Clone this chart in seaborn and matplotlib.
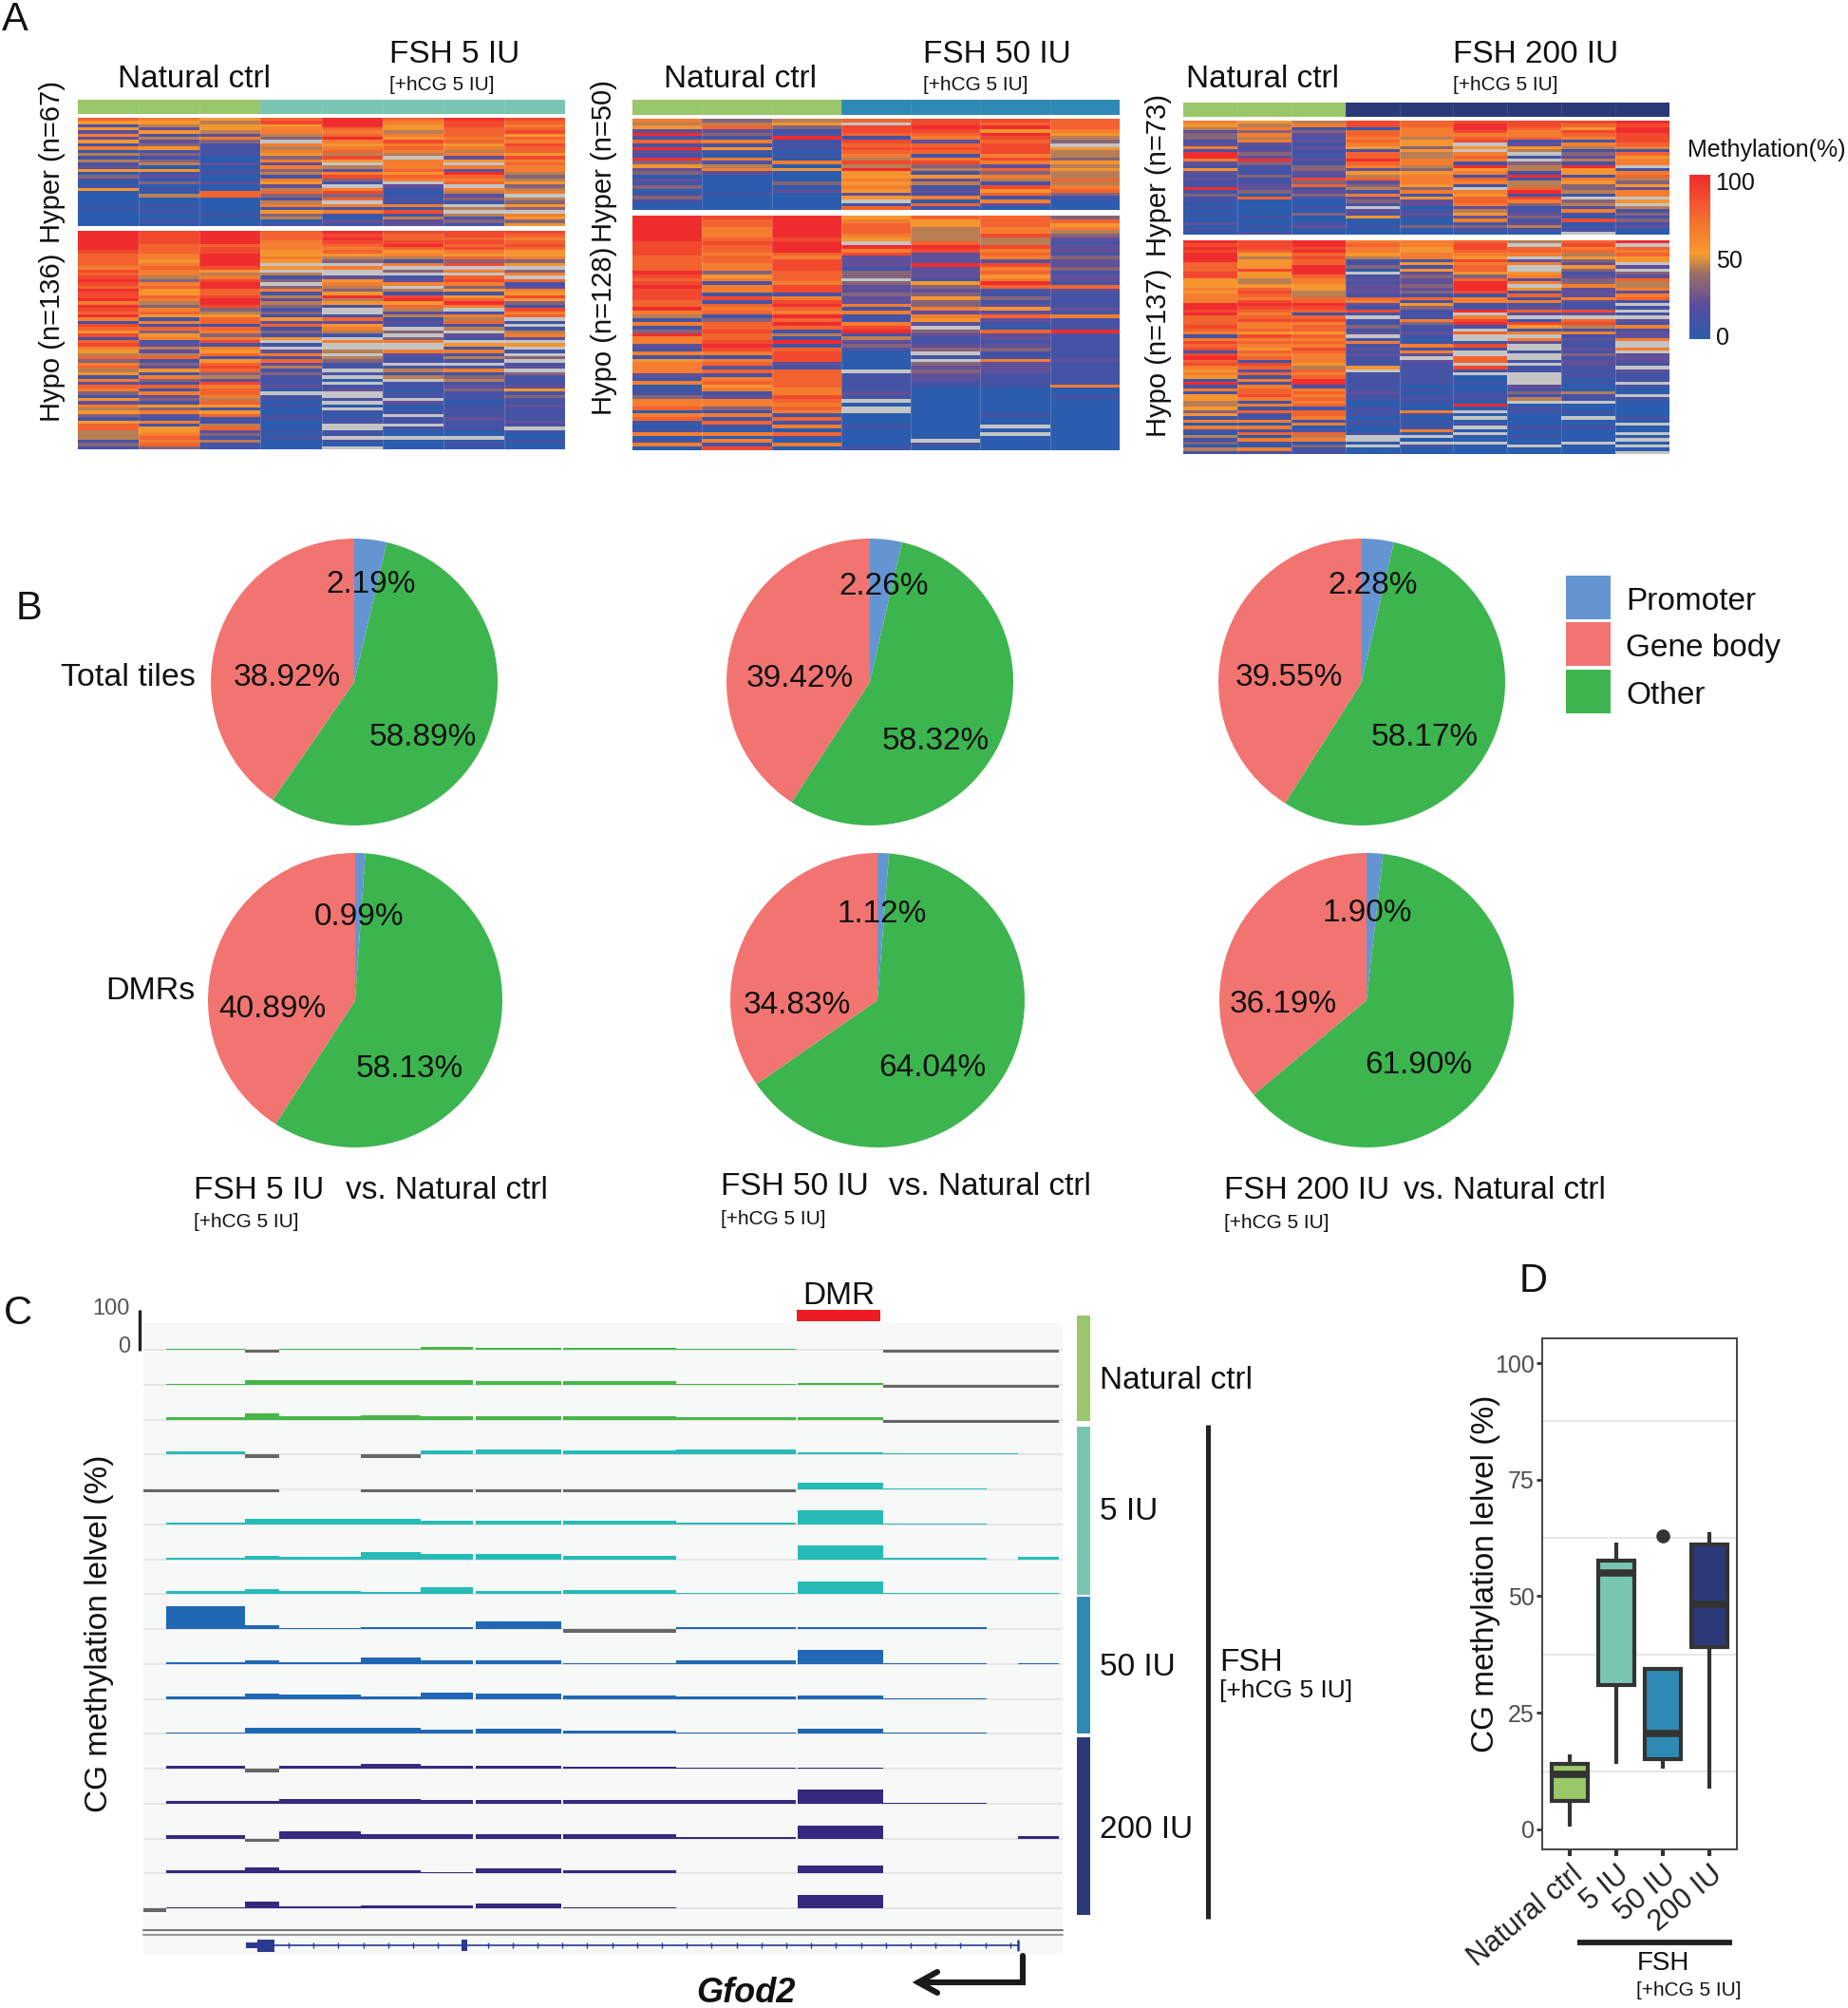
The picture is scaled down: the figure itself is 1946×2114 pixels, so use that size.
"""
Methylation figure: heatmaps (A), pies (B), browser tracks (C), boxplot (D).
"""
import numpy as np
import pandas as pd
import matplotlib
matplotlib.use("Agg")
import matplotlib.pyplot as plt
from matplotlib.cm import ScalarMappable
from matplotlib.colors import LinearSegmentedColormap, Normalize
from matplotlib.patches import Rectangle
from matplotlib.ticker import FixedLocator
import seaborn as sns

sns.set_theme(style="white")
plt.rcParams["font.family"] = ["Liberation Sans", "DejaVu Sans"]

W, H = 1946, 2114
GREEN, TEAL, MIDBLUE, NAVY = "#9AC76A", "#78C6B2", "#2E8AB4", "#2B3979"

# ---------- Data: panel A, one string per sample, digit = tens of %, x = no data ----------
p1_hyper = [
    "7515262516 0414125031 0150000010 0000",
    "6542514235 1313405120 3010400101 0010",
    "5455426311 1100201100 2007700000 1000",
    "7856643x64 6536263416 5247314615 3401",
    "9997679656 7485x42683 1x6837x616 1021",
    "7655465867 64x6667576 x210111608 1422",
    "9887776756 4625x62976 7x64231x4x 4131",
    "8767857687 7586766434 5346x4353x 6535",
]
p1_hypo = [
    "9999998777 7687898798 8969879618 7581786547 3674516276 3152645315 7744413 1",
    "8888777665 6766436755 7643675161 7356124247 1325163171 6231536216 1556767 3",
    "9999788999 9854689977 8998345771 7636816571 5787342867 7647515711 4723141 1",
    "7776665565 x5x413x361 4243131527 1315x1x261 7241311120 x110100110 0010100 0",
    "9898767543 x6xx256435 9451xx1725 641x6xx4x4 311x1x0x12 xx1x0x1011 xx11x10 x",
    "8778975641 6x3x126x41 8957424121 x3x36xx621 1x1414x110 11x2001x11 x100x00 0",
    "8878786573 8x6x786351 5796x16471 4x21x51614 1x16134123 1110111121 1100x01 0",
    "8767875563 5x36x71265 8531867x1x 1462x5x1x3 x12x311125 1311211112 1x10010 0",
]
p2_hyper = [
    "6452917192 1935230213 013100",
    "3472316151 0614620000 010000",
    "4531191110 1060500030 200000",
    "7x88718787 6484955656 525x17",
    "8898762787 1683415241 216071",
    "8795987888 6862736418 571620",
    "7776543x54 4354544746 731000",
]
p2_hypo = [
    "9999999888 8777798789 8887796416 1396621615 6662160113 6670671016 0160",
    "8776667877 6776635616 6181767137 7877898616 7271675612 6631617106 0618",
    "9999998999 7688877768 8168976979 7141917888 2177777668 7676171607 1060",
    "5677765x96 8222133x32 2322616116 8914231000 00x1111121 x0xx000100 0001",
    "7554444798 2229222153 2353362652 x321123x1x 3232211000 0000000000 0x10",
    "7776684486 7628675697 1131252721 0722123116 2221111000 0000100x0x 0000",
    "3756432122 1322312217 2111121611 1911111112 1111116001 0000000000 0000",
]
p3_hyper = [
    "6542331261 9962152121 1913110101 002010",
    "5463646212 3293111311 2230700000 100101",
    "4613212121 1121332183 7123100103 001200",
    "8807767651 7797625472 3416231x21 500100",
    "7766645535 4466435666 5361522012 100300",
    "8998678x5x 6761956176 1x65776245 261310",
    "8876671254 x1x3441914 4791863112 312410",
    "8758761641 3241955165 3341x34161 08011x",
    "9899888761 7566x16743 5266x5x413 131200",
]
p3_hypo = [
    "9898999777 8855565666 9989777876 1687818978 6565191615 5445351606 10413041",
    "8887545558 5544578768 9876786675 8676576718 7271616778 6161711606 17061061",
    "9989787799 9766554477 9871786775 7676876665 4767991676 7671776160 17460311",
    "6766541130 x121222176 2181x11312 x161212111 5x11111121 1001110110 01xx0x00",
    "6655661515 2322323171 5311163112 1016162x21 1111110101 1100610101 60x0x100",
    "7887658677 5379998166 119x6891x7 xx181xx77x 81x0010011 1090x0x01x 0x00x000",
    "4x776x26xx 5626x51716 1272x18516 x62xx1xx1x 11xxxx2131 4x01100001 00100x00",
    "7867453253 1233622262 1182x78416 1211213122 1111010041 1x0010x001 0000x000",
    "9x76755x2x 3274462671 x1x1x21612 26xx6x2221 x2111x100x 10000010x0 0x0x0x0x",
]

# ---------- Data: panel B ----------
pie_labels = ["Promoter", "Gene body", "Other"]
pie_colors = ["#6495D2", "#F27470", "#3CB54E"]
# wedge sizes as drawn, order promoter / other / gene body
sizes_5_total = [3.67, 55.98, 40.35]
sizes_50_total = [3.6, 55.6, 40.8]
sizes_200_total = [3.6, 55.4, 41.0]
sizes_5_dmr = [1.1, 58.0, 40.9]
sizes_50_dmr = [1.25, 64.1, 34.65]
sizes_200_dmr = [1.8, 62.1, 36.1]
text_total = [["2.19%", "38.92%", "58.89%"], ["2.26%", "39.42%", "58.32%"], ["2.28%", "39.55%", "58.17%"]]
text_dmr = [["0.99%", "40.89%", "58.13%"], ["1.12%", "34.83%", "64.04%"], ["1.90%", "36.19%", "61.90%"]]

# ---------- Data: panel C, methylation % per bin, nan = grey no-data block ----------
n = float("nan")
bin_left = [151, 175, 258, 294, 380, 443, 501, 593, 712, 840, 930, 1039, 1072]
bin_right = [175, 258, 294, 380, 443, 498, 591, 712, 838, 930, 1039, 1072, 1115]
track_rows = [
    [0, 2.3, n, 2.3, 3, 7, 3.5, 3.5, 2, 0, n, n, n],
    [0, 2.5, 11, 10, 11, 12, 8, 9, 2.5, 5, n, n, n],
    [0, 5, 16, 9, 10, 9, 9, 9, 6, 7, n, n, n],
    [0, 7, n, 0, n, 11, 12, 10, 12, 5, 4, 3, 0],
    [n, n, n, 0, n, n, n, n, n, 16, 3, 0, 0],
    [0, 4, 14, 14, 14, 8, 10, 9, 4, 35, 3, 0, 0],
    [0, 3, 9, 7, 17, 12, 14, 8, 0, 33, 3, 0, 7],
    [0, 7, 12, 7, 5, 16, 8, 11, 3, 32, 2, 2, 3],
    [0, 57, 10, 2, 5, 5, 18, n, 5, 5, 4, 0, 0],
    [0, 5, 8, 5, 16, 10, 10, 3, 10, 35, 3, 0, 3],
    [0, 6, 14, 11, 6, 16, 12, 8, 6, 8, 2, 0, 0],
    [0, 3.5, 14, 14, 14, 10, 13, 8, 3, 13, 3, 1, 0],
    [0, 7, n, 8, 11, 8, 8, 6, 2.5, 2.5, 1, 0, 0],
    [0, 6, 6, 11, 11, 8, 8, 8, 8, 34, 1, 0, 0],
    [0, 8, n, 17, 11, 11, 10, 10, 3, 32, 0, 0, 6],
    [0, 8, 14, 7, 7, 4, 13, 7, 1, 20, 2, 0, 0],
    [n, 3.5, 16, 4, 8, 8, 11, 2, 1, 34, 1.5, 0, 0],
]
track_colors = ["#47B649"] * 3 + ["#27BBB8"] * 5 + ["#2068B4"] * 4 + ["#35297F"] * 5

# ---------- Data: panel D, five values per group ----------
box_groups = ["Natural ctrl", "5 IU", "50 IU", "200 IU"]
box_natural = [0.6, 6, 11.7, 14, 16]
box_5 = [14, 31, 55, 57.6, 61.5]
box_50 = [13, 15, 20.6, 34.4, 63]
box_200 = [8.7, 39, 48.3, 61, 63.8]
box_ticks = [0, 25, 50, 75, 100]
box_minor = [12.5, 37.5, 62.5, 87.5]

meth_cmap = LinearSegmentedColormap.from_list("meth", [
    (0.0, "#2B5CAD"), (0.2, "#5A4B9F"), (0.4, "#9C7065"),
    (0.52, "#F59B30"), (0.72, "#F4702F"), (1.0, "#EF2B2E")])

fig = plt.figure(figsize=(W / 100, H / 100), dpi=100)


def add_ax(x0, y0, x1, y1, **kw):
    # axes from pixel box, y measured from the top of the image
    return fig.add_axes([x0 / W, 1 - y1 / H, (x1 - x0) / W, (y1 - y0) / H], **kw)


def decode(cols):
    # digit strings -> matrix rows x samples
    rows = []
    for c in cols:
        c = c.replace(" ", "")
        rows.append([np.nan if ch == "x" else int(ch) * 11 for ch in c])
    return np.array(rows).T


def draw_heat(mat, box):
    ax = add_ax(*box)
    ax.set_facecolor("#C4C4C4")
    sns.heatmap(mat, cmap=meth_cmap, vmin=0, vmax=100, cbar=False, ax=ax,
                xticklabels=False, yticklabels=False, rasterized=True)
    ax.vlines(range(1, mat.shape[1]), 0, mat.shape[0], color="white", lw=0.6, alpha=0.2)


def draw_anno(colors, box):
    ax = add_ax(*box)
    ax.bar(range(len(colors)), 1, width=1, color=colors, linewidth=0)
    ax.vlines(np.arange(len(colors) - 1) + 0.5, 0, 1, color="white", lw=0.5, alpha=0.12)
    ax.set_xlim(-0.5, len(colors) - 0.5)
    ax.set_ylim(0, 1)
    ax.axis("off")


# ---------- Panel A ----------
draw_anno([GREEN] * 3 + [TEAL] * 5, (82, 105, 595, 120))
draw_heat(decode(p1_hyper), (82, 124, 595, 238))
draw_heat(decode(p1_hypo), (82, 243, 595, 473))

draw_anno([GREEN] * 3 + [MIDBLUE] * 4, (666, 105, 1179, 121))
draw_heat(decode(p2_hyper), (666, 125, 1179, 221))
draw_heat(decode(p2_hypo), (666, 227, 1179, 474))

draw_anno([GREEN] * 3 + [NAVY] * 6, (1246, 108, 1758, 123))
draw_heat(decode(p3_hyper), (1246, 127, 1758, 247))
draw_heat(decode(p3_hypo), (1246, 253, 1758, 478))

cax = add_ax(1779, 184, 1801, 357)
cb = fig.colorbar(ScalarMappable(norm=Normalize(-2, 104), cmap=meth_cmap), cax=cax, ticks=[0, 50, 100])
cb.outline.set_visible(False)
cb.ax.tick_params(length=0, labelsize=18, pad=4, labelcolor="#111111")

# ---------- Panel B ----------
pie_sets = [sizes_5_total, sizes_50_total, sizes_200_total, sizes_5_dmr, sizes_50_dmr, sizes_200_dmr]
pie_boxes = [(373, 718, 151), (916, 718, 151), (1434, 718, 151),
             (374, 1053, 155), (924, 1053, 155), (1439, 1053, 155)]
for sizes, (cx, cy, r) in zip(pie_sets, pie_boxes):
    ax = add_ax(cx - r, cy - r, cx + r, cy + r)
    ax.pie(sizes, colors=[pie_colors[0], pie_colors[2], pie_colors[1]], startangle=90,
           counterclock=False, radius=1, wedgeprops={"linewidth": 0})
    ax.set_xlim(-1, 1)
    ax.set_ylim(-1, 1)

# ---------- Panel C ----------
bg = add_ax(151, 1393, 1119, 2058)
bg.set_facecolor("#F7F8F8")
bg.set_xticks([])
bg.set_yticks([])
for s in bg.spines.values():
    s.set_visible(False)

PX = 100 / 43  # percent per pixel
widths = np.array(bin_right) - np.array(bin_left)
for i, (row, col) in enumerate(zip(track_rows, track_colors)):
    base = 1421 + i * 36.76
    ax = add_ax(151, base - 30, 1119, base + 7)
    ax.patch.set_alpha(0)
    ax.axhline(0, color="#E2E2E2", lw=1.2, zorder=1)
    vals = np.array(row)
    ax.bar(bin_left, np.nan_to_num(vals), width=widths, align="edge", color=col, linewidth=0, zorder=2)
    ax.bar(bin_left, np.where(np.isnan(vals), -8, 0), width=widths, align="edge",
           color="#666666", linewidth=0, zorder=2)
    ax.set_xlim(151, 1119)
    ax.set_ylim(-7 * PX, 30 * PX)
    ax.axis("off")

# ---------- Panel D ----------
df = pd.DataFrame({
    "group": np.repeat(box_groups, 5),
    "value": box_natural + box_5 + box_50 + box_200,
})
ax = add_ax(1624, 1409, 1829, 1947)
sns.boxplot(data=df, x="group", y="value", hue="group", palette=[GREEN, TEAL, MIDBLUE, NAVY],
            width=0.78, linewidth=3, whis=1.4, showcaps=False, saturation=1, legend=False,
            linecolor="#333333", medianprops={"linewidth": 5.5},
            flierprops={"marker": "o", "markersize": 9.5, "markerfacecolor": "#333333",
                        "markeredgecolor": "#333333"}, ax=ax)
ax.set_xlim(-0.59, 3.59)
ax.set_ylim(-4.3, 105.3)
ax.set_xlabel("")
ax.set_ylabel("")
ax.set_yticks(box_ticks)
ax.yaxis.set_minor_locator(FixedLocator(box_minor))
ax.grid(False)
ax.grid(which="minor", axis="y", color="#E6E6E6", lw=1.4)
ax.set_axisbelow(True)
ax.tick_params(axis="y", which="major", left=True, length=4, width=2, color="#333333",
               labelsize=18, labelcolor="#4D4D4D", pad=2)
ax.tick_params(axis="y", which="minor", left=False)
ax.tick_params(axis="x", bottom=True, length=5, width=3, color="#333333", labelsize=22,
               labelcolor="#222222", pad=3)
plt.setp(ax.get_xticklabels(), rotation=40, ha="right", va="top", rotation_mode="anchor")
for s in ax.spines.values():
    s.set_color("#444444")
    s.set_linewidth(1.4)

# ---------- Page overlay: texts and lines ----------
page = fig.add_axes([0, 0, 1, 1])
page.set_xlim(0, W)
page.set_ylim(H, 0)
page.axis("off")


def txt(x, y, s, size=24, ha="left", **kw):
    # text sits a little high with va=center, nudge down
    page.text(x, y + 2.5, s, fontsize=size, ha=ha, va="center", color=kw.pop("color", "#111111"), **kw)


for x, y, s in [(2, 18, "A"), (17, 639, "B"), (4, 1381, "C"), (1600, 1346, "D")]:
    txt(x, y, s, size=30)

# panel A headers
for x1, x2, label in [(124, 410, "FSH 5 IU"), (699, 972, "FSH 50 IU"), (1249, 1530, "FSH 200 IU")]:
    txt(x1, 81, "Natural ctrl", size=24)
    txt(x2, 55, label, size=24)
    txt(x2, 87, "[+hCG 5 IU]", size=15)
txt(55, 168, "Hyper (n=67)", size=21, ha="center", rotation=90)
txt(55, 353, "Hypo (n=136)", size=21, ha="center", rotation=90)
txt(636, 167, "Hyper (n=50)", size=21, ha="center", rotation=90)
txt(636, 346, "Hypo (n=128)", size=21, ha="center", rotation=90)
txt(1220, 182, "Hyper (n=73)", size=21, ha="center", rotation=90)
txt(1220, 369, "Hypo (n=137)", size=21, ha="center", rotation=90)
txt(1777, 156, "Methylation(%)", size=18)

# panel B texts
total_xy = [[(391, 613), (302, 711), (445, 774)], [(931, 615), (842, 712), (985, 778)],
            [(1446, 614), (1357, 711), (1500, 774)]]
dmr_xy = [[(378, 963), (287, 1060), (431, 1123)], [(929, 960), (839, 1056), (982, 1122)],
          [(1440, 959), (1351, 1055), (1494, 1119)]]
for labels, xys in zip(text_total + text_dmr, total_xy + dmr_xy):
    for s, (x, y) in zip(labels, xys):
        txt(x, y, s, size=24, ha="center")
txt(206, 711, "Total tiles", size=24.5, ha="right")
txt(206, 1041, "DMRs", size=24.5, ha="right")
for (x, y, dose, vs, yh) in [(204, 1251, "FSH 5 IU", 364, 1284), (759, 1247, "FSH 50 IU", 936, 1281),
                             (1289, 1251, "FSH 200 IU", 1478, 1285)]:
    txt(x, y, dose, size=24)
    txt(vs, y, "vs. Natural ctrl", size=24)
    txt(x, yh, "[+hCG 5 IU]", size=15)
for y, c, s in zip([606, 655, 705], pie_colors, pie_labels):
    page.add_patch(Rectangle((1649, y), 47, 46, color=c, lw=0))
    txt(1712, y + 25, s, size=24)

# panel C decoration
page.add_patch(Rectangle((839, 1379), 88, 12, color="#ED1C24", lw=0))
txt(883, 1362, "DMR", size=24, ha="center")
page.plot([147, 147], [1379, 1422], color="#222222", lw=2.4, solid_capstyle="butt")
txt(137, 1376, "100", size=17, ha="right", color="#555555")
txt(137, 1416, "0", size=17, ha="right", color="#555555")
txt(105, 1717, "CG methylation lelvel (%)", size=24, ha="center", rotation=90)
for y0, y1, c, label, ly in [(1385, 1496, GREEN, "Natural ctrl", 1451), (1502, 1679, TEAL, "5 IU", 1589),
                             (1681, 1825, MIDBLUE, "50 IU", 1753), (1829, 2016, NAVY, "200 IU", 1924)]:
    page.add_patch(Rectangle((1134, y0), 14, y1 - y0, color=c, lw=0))
    txt(1158, ly, label, size=24)
page.plot([1272, 1272], [1500, 2020], color="#222222", lw=3.6, solid_capstyle="butt")
txt(1284, 1748, "FSH", size=24)
txt(1284, 1777, "[+hCG 5 IU]", size=19)
page.plot([151, 1119], [2032, 2032], color="#777777", lw=1.5)
page.plot([151, 1119], [2037, 2037], color="#999999", lw=1.5)

# gene model
GENE = "#2B3990"
page.plot([289, 1072], [2048, 2048], color=GENE, lw=1.2)
page.vlines(np.arange(304, 1066, 26.2), 2045, 2051, color=GENE, lw=1)
page.add_patch(Rectangle((259, 2045), 12, 6, color=GENE, lw=0))
page.add_patch(Rectangle((271, 2042), 18, 13, color=GENE, lw=0))
page.add_patch(Rectangle((486, 2042), 6, 12, color=GENE, lw=0))
page.plot([1072, 1072], [2043, 2053], color=GENE, lw=1.8)
page.plot([1077, 1077, 967], [2059, 2087, 2087], color="#1A1A1A", lw=4.4, solid_joinstyle="miter")
page.plot([987, 967, 987], [2076, 2087, 2098], color="#1A1A1A", lw=4.4, solid_joinstyle="miter")
txt(785, 2096, "Gfod2", size=26, ha="center", fontweight="bold", fontstyle="italic")

# panel D decoration
txt(1565, 1654, "CG methylation lelvel (%)", size=24, ha="center", rotation=90)
page.plot([1661, 1824], [2045, 2045], color="#222222", lw=4.2, solid_capstyle="butt")
txt(1751, 2065, "FSH", size=20, ha="center")
txt(1723, 2093, "[+hCG 5 IU]", size=15)

fig.savefig("out.png", dpi=100)
plt.close(fig)
